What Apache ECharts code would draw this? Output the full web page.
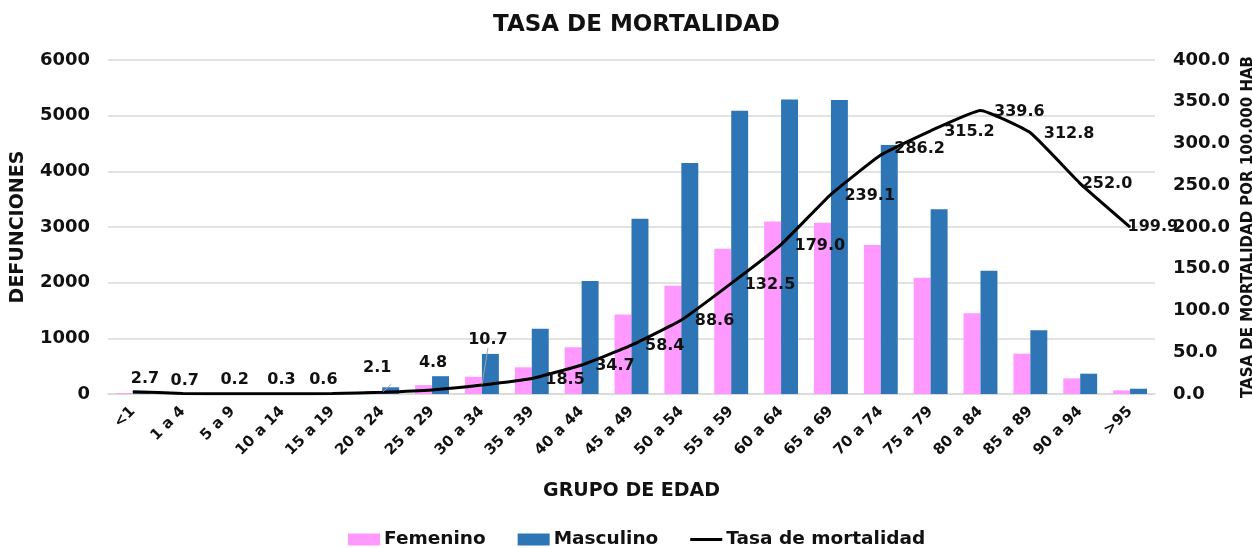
<!DOCTYPE html>
<html>
<head>
<meta charset="utf-8">
<script src="https://cdn.jsdelivr.net/npm/echarts@6/dist/echarts.min.js"></script>
<style>html,body{margin:0;padding:0;background:#fff;}#c{width:1252px;height:548px;}</style>
</head>
<body>
<div id="c"></div>
<script>
const categories = ['<1','1 a 4','5 a 9','10 a 14','15 a 19','20 a 24','25 a 29','30 a 34','35 a 39','40 a 44','45 a 49','50 a 54','55 a 59','60 a 64','65 a 69','70 a 74','75 a 79','80 a 84','85 a 89','90 a 94','>95'];
const femenino = [15, 6, 4, 5, 12, 55, 160, 310, 480, 840, 1430, 1945, 2610, 3100, 3075, 2675, 2090, 1450, 725, 280, 65];
const masculino = [25, 8, 5, 8, 25, 120, 320, 720, 1170, 2030, 3150, 4150, 5090, 5290, 5280, 4475, 3320, 2215, 1145, 365, 95];
const tasa = [2.7, 0.7, 0.2, 0.3, 0.6, 2.1, 4.8, 10.7, 18.5, 34.7, 58.4, 88.6, 132.5, 179.0, 239.1, 286.2, 315.2, 339.6, 312.8, 252.0, 199.9];
const leftTicks = {min: 0, max: 6000, interval: 1000};
const rightTicks = {min: 0, max: 400, interval: 50};

// label styling (not data)
const FONT = 'DejaVu Sans';
const TXT = '#111111';
function labelStyle(i) {
  const inside = {
    0: [12, -13], 1: [2, -13], 2: [2, -14], 3: [-1, -14], 4: [-9, -14],
    5: [-5, -24], 6: [1, -27], 7: [6, -45]
  };
  if (inside[i]) return {position: 'inside', offset: inside[i], distance: 0};
  if (i === 15) return {position: 'right', distance: 13, offset: [0, -6]};
  if (i === 19) return {position: 'right', distance: 1};
  if (i === 20) return {position: 'right', distance: -3};
  return {position: 'right', distance: 13, offset: [0, 1]};
}
const withLine = {5: true, 7: true};

const chart = echarts.init(document.getElementById('c'), null, {renderer: 'canvas'});
const lineIcon = 'path://M0,0L0.01,0M0,4.5L32,4.5L32,7.5L0,7.5ZM32,12L31.99,12';

chart.setOption({
  backgroundColor: '#ffffff',
  animation: false,
  title: {
    text: 'TASA DE MORTALIDAD', left: 488, top: 9,
    textStyle: {fontFamily: FONT, fontWeight: 'bold', fontSize: 23, color: TXT}
  },
  legend: {
    left: 343, top: 525, itemWidth: 32, itemHeight: 12, itemGap: 32,
    textStyle: {fontFamily: FONT, fontWeight: 'bold', fontSize: 18.5, color: TXT, padding: [0, 0, 0, -1]},
    data: [
      {name: 'Femenino', icon: 'rect'},
      {name: 'Masculino', icon: 'rect'},
      {name: 'Tasa de mortalidad', icon: lineIcon, itemStyle: {color: '#000', borderWidth: 0}}
    ]
  },
  grid: {left: 108, right: 97, top: 60, bottom: 154, containLabel: false, outerBoundsMode: 'none'},
  xAxis: {
    type: 'category', data: categories,
    name: 'GRUPO DE EDAD', nameLocation: 'middle', nameGap: 88,
    nameTextStyle: {fontFamily: FONT, fontWeight: 'bold', fontSize: 19, color: TXT},
    axisLine: {show: true, lineStyle: {color: '#d9d9d9', width: 1.5}},
    axisTick: {show: false},
    axisLabel: {rotate: 45, margin: 15, interval: 0, fontFamily: FONT, fontWeight: 'bold', fontSize: 15, color: TXT}
  },
  yAxis: [
    {
      type: 'value', min: leftTicks.min, max: leftTicks.max, interval: leftTicks.interval,
      name: 'DEFUNCIONES', nameLocation: 'middle', nameGap: 80, nameRotate: 90,
      nameTextStyle: {fontFamily: FONT, fontWeight: 'bold', fontSize: 19, color: TXT},
      axisLine: {show: false}, axisTick: {show: false},
      axisLabel: {margin: 18, fontFamily: FONT, fontWeight: 'bold', fontSize: 18, color: TXT,
        formatter: v => String(v)},
      splitLine: {lineStyle: {color: '#d9d9d9', width: 1.5}}
    },
    {
      type: 'value', min: rightTicks.min, max: rightTicks.max, interval: rightTicks.interval,
      name: 'TASA DE MORTALIDAD POR 100,000 HAB', nameLocation: 'middle', nameGap: 78, nameRotate: 90,
      nameTextStyle: {fontFamily: FONT, fontWeight: 'bold', fontSize: 15, color: TXT},
      axisLine: {show: false}, axisTick: {show: false},
      axisLabel: {margin: 18, fontFamily: FONT, fontWeight: 'bold', fontSize: 18, color: TXT,
        formatter: v => v.toFixed(1)},
      splitLine: {show: false}
    }
  ],
  series: [
    {
      name: 'Femenino', type: 'bar', data: femenino, yAxisIndex: 0,
      barGap: '0%', barCategoryGap: '32%',
      itemStyle: {color: '#FF99FF'}
    },
    {
      name: 'Masculino', type: 'bar', data: masculino, yAxisIndex: 0,
      barGap: '0%', barCategoryGap: '32%',
      itemStyle: {color: '#2E75B6'}
    },
    {
      name: 'Tasa de mortalidad', type: 'line', yAxisIndex: 1,
      smooth: 0.12, symbol: 'circle', symbolSize: 1, showSymbol: true,
      lineStyle: {color: '#000', width: 3},
      itemStyle: {color: '#000'},
      z: 5,
      label: {show: true, fontFamily: FONT, fontWeight: 'bold', fontSize: 16, color: TXT,
        formatter: p => p.value.toFixed(1)},
      labelLine: {show: false, lineStyle: {color: '#a6a6a6', width: 1}},
      data: tasa.map((v, i) => ({
        value: v,
        label: labelStyle(i),
        labelLine: {show: !!withLine[i], lineStyle: {color: '#a6a6a6', width: 1}}
      }))
    }
  ]
});
</script>
</body>
</html>
